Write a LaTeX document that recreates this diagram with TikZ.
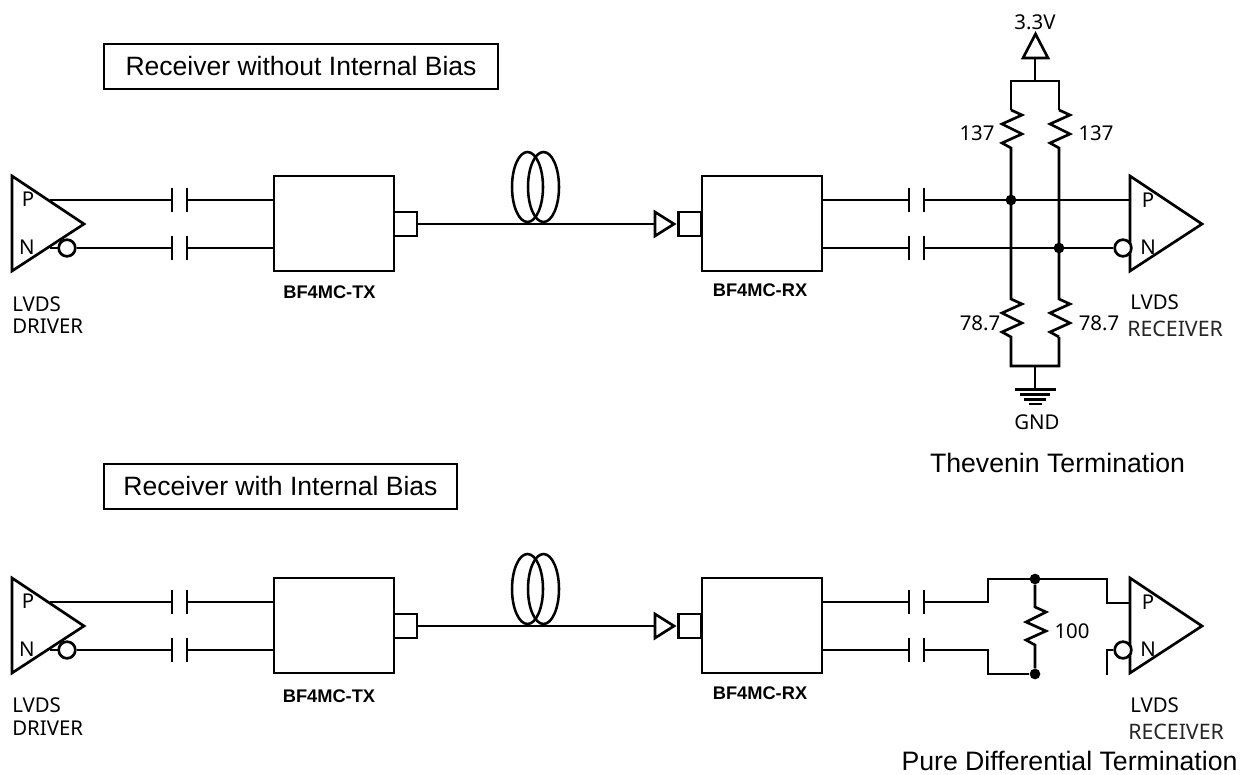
\documentclass[tikz,border=0pt]{standalone}
\usepackage{fontspec}
\setmainfont{Liberation Sans}
\newfontfamily\schem{Noto Sans}
\tikzset{
  wire/.style={line width=2pt,line join=miter,line cap=butt},
  bubble/.style={circle,draw,line width=2pt,fill=white,minimum size=12.5pt,inner sep=0pt},
  junction/.style={circle,fill=black,minimum size=8pt,inner sep=0pt},
  block/.style={draw,line width=2pt,minimum width=90pt,minimum height=71.25pt,inner sep=0pt},
  portbox/.style={draw,line width=2pt,minimum width=17.25pt,minimum height=18pt,inner sep=0pt},
  titlebox/.style={draw,line width=1.5pt,inner sep=0pt,font=\fontsize{19.9pt}{22pt}\selectfont},
  caption/.style={font=\fontsize{20pt}{22pt}\selectfont,inner sep=0pt},
  lbl/.style={font=\schem\fontsize{15.3pt}{17pt}\selectfont,inner sep=0pt},
  lblgray/.style={font=\schem\fontsize{16pt}{18pt}\selectfont,text=black!85,inner sep=0pt},
  partname/.style={font=\bfseries\fontsize{13.7pt}{15pt}\selectfont,inner sep=0pt},
}
\newcommand{\CapPlates}[2]{% x, y
  \draw[wire] (#1,#2-12) -- (#1,#2+12);
  \draw[wire] (#1+15,#2-12) -- (#1+15,#2+12);
}
\newcommand{\Chain}[2]{% prefix, yoffset
  \coordinate (#1pd) at (50,200+#2);
  \coordinate (#1nd) at (50,248+#2);
  \coordinate (#1ca) at (172,200+#2);
  \coordinate (#1cb) at (187,200+#2);
  \coordinate (#1cc) at (172,248+#2);
  \coordinate (#1cd) at (187,248+#2);
  \coordinate (#1ce) at (909,200+#2);
  \coordinate (#1cf) at (924,200+#2);
  \coordinate (#1cg) at (909,248+#2);
  \coordinate (#1ch) at (924,248+#2);
  \draw[wire] (12,176+#2) -- (12,271+#2) -- (84,224+#2) -- cycle;
  \node[lbl] (#1dp) at (28,199+#2) {P};
  \node[lbl] (#1dn) at (27,247+#2) {N};
  \draw[wire] (#1nd) -- (67,248+#2);
  \node[bubble] (#1bd) at (67,248+#2) {};
  \node[block] (#1tx) at (334,223.5+#2) {};
  \node[portbox] (#1txp) at (405.5,224+#2) {};
  \node[block] (#1rx) at (762,223.5+#2) {};
  \node[portbox] (#1rxp) at (690,224+#2) {};
  \coordinate (#1arrow) at (655,224+#2);
  \draw[wire] (#1pd) -- (#1ca);
  \draw[wire] (#1bd) -- (#1cc);
  \draw[wire] (#1cb) -- (#1cb-|#1tx.west);
  \draw[wire] (#1cd) -- (#1cd-|#1tx.west);
  \CapPlates{172}{200+#2}
  \CapPlates{172}{248+#2}
  \CapPlates{909}{200+#2}
  \CapPlates{909}{248+#2}
  \draw[wire] (#1txp.east) -- (#1arrow);
  \draw[wire] (655,212+#2) -- (655,236+#2) -- (674,224+#2) -- cycle;
  \draw[wire] (#1rx.east|-#1ce) -- (#1ce);
  \draw[wire] (#1rx.east|-#1cg) -- (#1cg);
  \draw[wire,line width=1.9pt] (527.5,187+#2) ellipse[x radius=15.5,y radius=35];
  \draw[wire,line width=1.9pt] (543.5,187+#2) ellipse[x radius=15.5,y radius=35];
  \draw[wire] (1130,176+#2) -- (1130,271+#2) -- (1202,224+#2) -- cycle;
  \node[lbl] (#1rp) at (1148,200+#2) {P};
  \node[lbl] (#1rn) at (1148,247+#2) {N};
  \node[bubble] (#1br) at (1123,248+#2) {};
}
\newcommand{\ResA}[2]{% x, ytop
  (#1,#2) -- (#1+11,#2+5) -- (#1-9,#2+14) -- (#1+11,#2+24) -- (#1-9,#2+33) -- (#1,#2+38)
}
\begin{document}
\begin{tikzpicture}[x=0.75pt,y=-0.75pt]
\useasboundingbox (0,0) rectangle (1255,774);
% titles
\node[titlebox,minimum width=295.5pt,minimum height=33.75pt] (t1) at (301,66.5) {Receiver without Internal Bias};
\node[titlebox,minimum width=264.75pt,minimum height=33.75pt] (t2) at (280.5,486.5) {Receiver with Internal Bias};
% chains
\Chain{a}{0}
\Chain{b}{402}
% top termination
\coordinate (atop) at (1035,81);
\coordinate (abot) at (1035,366);
\coordinate (vstem) at (1035,58);
\coordinate (gstem) at (1035,389.5);
\node[junction] (ja) at (1011,200) {};
\node[junction] (jb) at (1059,248) {};
\draw[wire] (acf) -- (1130,200);
\draw[wire] (ach) -- (abr);
\draw[wire] (vstem) -- (atop);
\draw[wire] (1023,58) -- (1048,58) -- (1035.5,34) -- cycle;
\draw[wire] (1011,110) -- (1011,81) -- (1059,81) -- (1059,110);
\draw[wire] \ResA{1011}{110} -- (1011,299) -- \ResA{1011}{299} -- (1011,366) -- (1059,366) -- (1059,337);
\draw[wire] \ResA{1059}{110} -- (1059,299) -- \ResA{1059}{299};
\draw[wire] (abot) -- (gstem);
\draw[wire] (1015,389.5) -- (1056,389.5);
\draw[wire,line width=1.8pt] (1020,394.5) -- (1050,394.5);
\draw[wire,line width=1.8pt] (1024,399.5) -- (1046,399.5);
\draw[wire,line width=1.8pt] (1029,404) -- (1042,404);
\node[lbl] (v33) at (1035,22) {3.3V};
\node[lbl] (r1) at (977,133) {137};
\node[lbl] (r2) at (1096,133) {137};
\node[lbl] (r3) at (980,323) {78.7};
\node[lbl] (r4) at (1099,323) {78.7};
\node[lbl] (gnd) at (1037,422) {GND};
\node[caption] (cap1) at (1057.5,463) {Thevenin Termination};
% bottom termination
\node[junction] (jc) at (1035,579) {};
\node[junction] (jd) at (1035,674) {};
\draw[wire] (bcf) -- (988,602) -- (988,579) -- (1107,579) -- (1107,603) -- (1130,603);
\draw[wire] (bch) -- (988,650) -- (988,674) -- (jd);
\draw[wire] (1107,675) -- (1107,650) -- (bbr);
\draw[wire] (jc) -- (1035,607) -- (1046,612) -- (1026,622) -- (1046,631) -- (1026,640) -- (1035,645) -- (jd);
\node[lbl] (r5) at (1072,631) {100};
\node[caption] (cap2) at (1069.5,761) {Pure Differential Termination};
% device labels
\node[lbl,anchor=west] (dl1) at (12,304) {LVDS};
\node[lbl,anchor=west] (dl2) at (12,326) {DRIVER};
\node[lbl,anchor=west] (dl3) at (12,705) {LVDS};
\node[lbl,anchor=west] (dl4) at (12,728) {DRIVER};
\node[lbl,anchor=west] (rl1) at (1130,302) {LVDS};
\node[lblgray,anchor=west] (rl2) at (1127,329) {RECEIVER};
\node[lbl,anchor=west] (rl3) at (1130,705) {LVDS};
\node[lblgray,anchor=west] (rl4) at (1128,732) {RECEIVER};
\node[partname] (p1) at (329.5,292) {BF4MC-TX};
\node[partname] (p2) at (760,290) {BF4MC-RX};
\node[partname] (p3) at (329,696) {BF4MC-TX};
\node[partname] (p4) at (760,693) {BF4MC-RX};
\end{tikzpicture}
\end{document}
